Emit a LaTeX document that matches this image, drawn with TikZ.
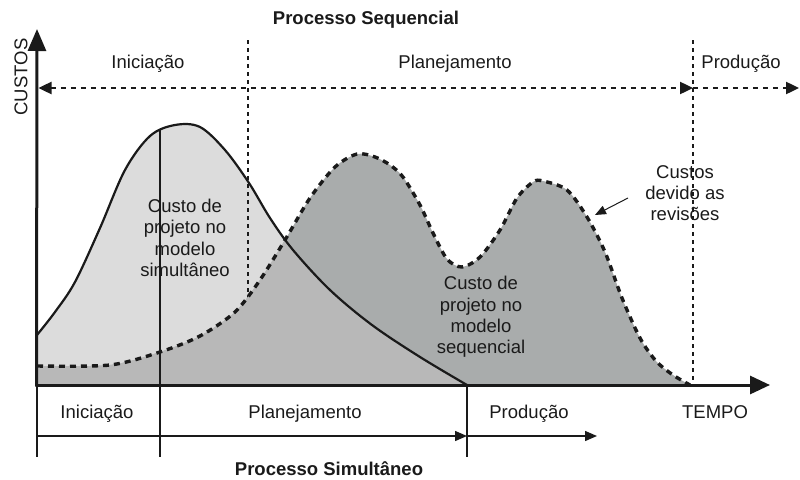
\documentclass[tikz,border=0pt]{standalone}
\usepackage{fontspec}
\setmainfont{Liberation Sans}
\usetikzlibrary{arrows.meta}

\definecolor{simfill}{HTML}{DCDCDC}
\definecolor{seqfill}{HTML}{A9ACAC}
\definecolor{bothfill}{HTML}{B8B8B8}
\definecolor{ink}{HTML}{1A1A1A}

\begin{document}
\begin{tikzpicture}[x=1pt,y=-1pt,
  lbl/.style={font=\fontsize{18.5}{21.3}\selectfont, text=ink, inner sep=0pt, align=center},
  ttl/.style={font=\bfseries\fontsize{18.5}{21.3}\selectfont, text=ink, inner sep=0pt},
  axisline/.style={line width=3pt, draw=ink},
  phasedot/.style={line width=2.4pt, draw=ink, dash pattern=on 5pt off 5pt},
  phasevert/.style={line width=2.4pt, draw=ink, dash pattern=on 3.5pt off 4.5pt},
  thin/.style={line width=1.4pt, draw=ink},
  bigtip/.style={-{Triangle[length=22pt,width=18pt]}},
  midtip/.style={-{Triangle[length=13pt,width=12pt]}},
  smalltip/.style={-{Triangle[length=12pt,width=10pt]}}
]
\useasboundingbox (0,0) rectangle (800,479);

% cost curves
\def\simcurve{plot[smooth,tension=0.55] coordinates {(37,335) (55,312) (75,282) (100,228) (125,170) (150,136) (175,125) (200,127) (225,150) (249,183) (270,218) (293,250) (330,290) (372,325) (420,357) (467,385)}}
\def\seqcurve{plot[smooth,tension=0.5] coordinates {(37,366) (110,365) (160,352) (200,336) (235,312) (260,280) (285,240) (310,198) (335,167) (357,154) (375,157) (390,165) (403,177) (420,205) (433,233) (447,259) (462,267) (480,257) (500,230) (517,198) (533,182) (543,181) (567,190) (587,217) (605,252) (622,298) (640,338) (656,361) (673,375) (690,385)}}

% key points
\coordinate (O) at (37,385);
\coordinate (ytop) at (37,29);
\coordinate (xend) at (770,385);
\coordinate (simEnd) at (467,385);
\coordinate (seqEnd) at (690,385);

% simultaneous cost area
\fill[simfill] \simcurve -- (O) -- cycle;

% phase boundary between initiation and planning (behind the sequential area)
\coordinate (pA) at (248,40);
\coordinate (pAb) at (248,385);
\draw[phasevert] (pA) -- (pAb);

% sequential cost area and its overlap with the simultaneous one
\fill[seqfill] \seqcurve -- (O) -- cycle;
\begin{scope}
  \clip \simcurve -- (O) -- cycle;
  \fill[bothfill] \seqcurve -- (O) -- cycle;
\end{scope}

% curve outlines
\draw[line width=3.4pt, draw=ink, dash pattern=on 6pt off 5pt] \seqcurve;
\draw[line width=2.2pt, draw=ink] \simcurve;

% phase boundary between planning and production
\coordinate (pB) at (693,40);
\coordinate (pBb) at (693,385);
\draw[phasevert] (pB) -- (pBb);

% sequential process phases
\coordinate (rowL) at (38.5,88);
\coordinate (rowM) at (693,88);
\coordinate (rowR) at (799,88);
\draw[phasedot, {Triangle[length=13pt,width=12pt]}-{Triangle[length=13pt,width=12pt]}] (rowL) -- (rowM);
\draw[phasedot, midtip] (rowM) -- (rowR);

% simultaneous process phases
\coordinate (sL) at (37,457);
\coordinate (sA) at (160,129);
\coordinate (sAb) at (160,457);
\coordinate (sB) at (467,457);
\coordinate (rowBL) at (37,436);
\coordinate (rowBM) at (467,436);
\coordinate (rowBR) at (597,436);
\draw[thin] (O) -- (sL);
\draw[thin] (sA) -- (sAb);
\draw[thin] (simEnd) -- (sB);
\draw[thin, smalltip] (rowBL) -- (rowBM);
\draw[thin, smalltip] (rowBM) -- (rowBR);

% axes
\draw[axisline, bigtip] (36.5,386.5) -- (ytop);
\draw[axisline, -{Triangle[length=20pt,width=18pt]}] (35.5,385) -- (xend);

% labels
\node[lbl, rotate=90] (custos) at (21,77) {CUSTOS};
\node[lbl] (tempo) at (715,412) {TEMPO};
\node[ttl] (seqTitle) at (366,20) {Processo Sequencial};
\node[ttl] (simTitle) at (329,469) {Processo Simultâneo};

\node[lbl] (tIni) at (148,64) {Iniciação};
\node[lbl] (tPla) at (455,64) {Planejamento};
\node[lbl] (tPro) at (741,64) {Produção};

\node[lbl] (bIni) at (97,414) {Iniciação};
\node[lbl] (bPla) at (305,414) {Planejamento};
\node[lbl] (bPro) at (529,414) {Produção};

\node[lbl] (simText) at (185,238) {Custo de\\projeto no\\modelo\\simultâneo};
\node[lbl] (seqText) at (481,317) {Custo de\\projeto no\\modelo\\sequencial};
\node[lbl] (revText) at (685,193) {Custos\\devido as\\revisões};

% pointer to the revision costs
\coordinate (revTip) at (595,215);
\draw[line width=1pt, draw=ink, -{Triangle[length=11pt,width=9pt]}] (628,198) -- (revTip);
\end{tikzpicture}
\end{document}
